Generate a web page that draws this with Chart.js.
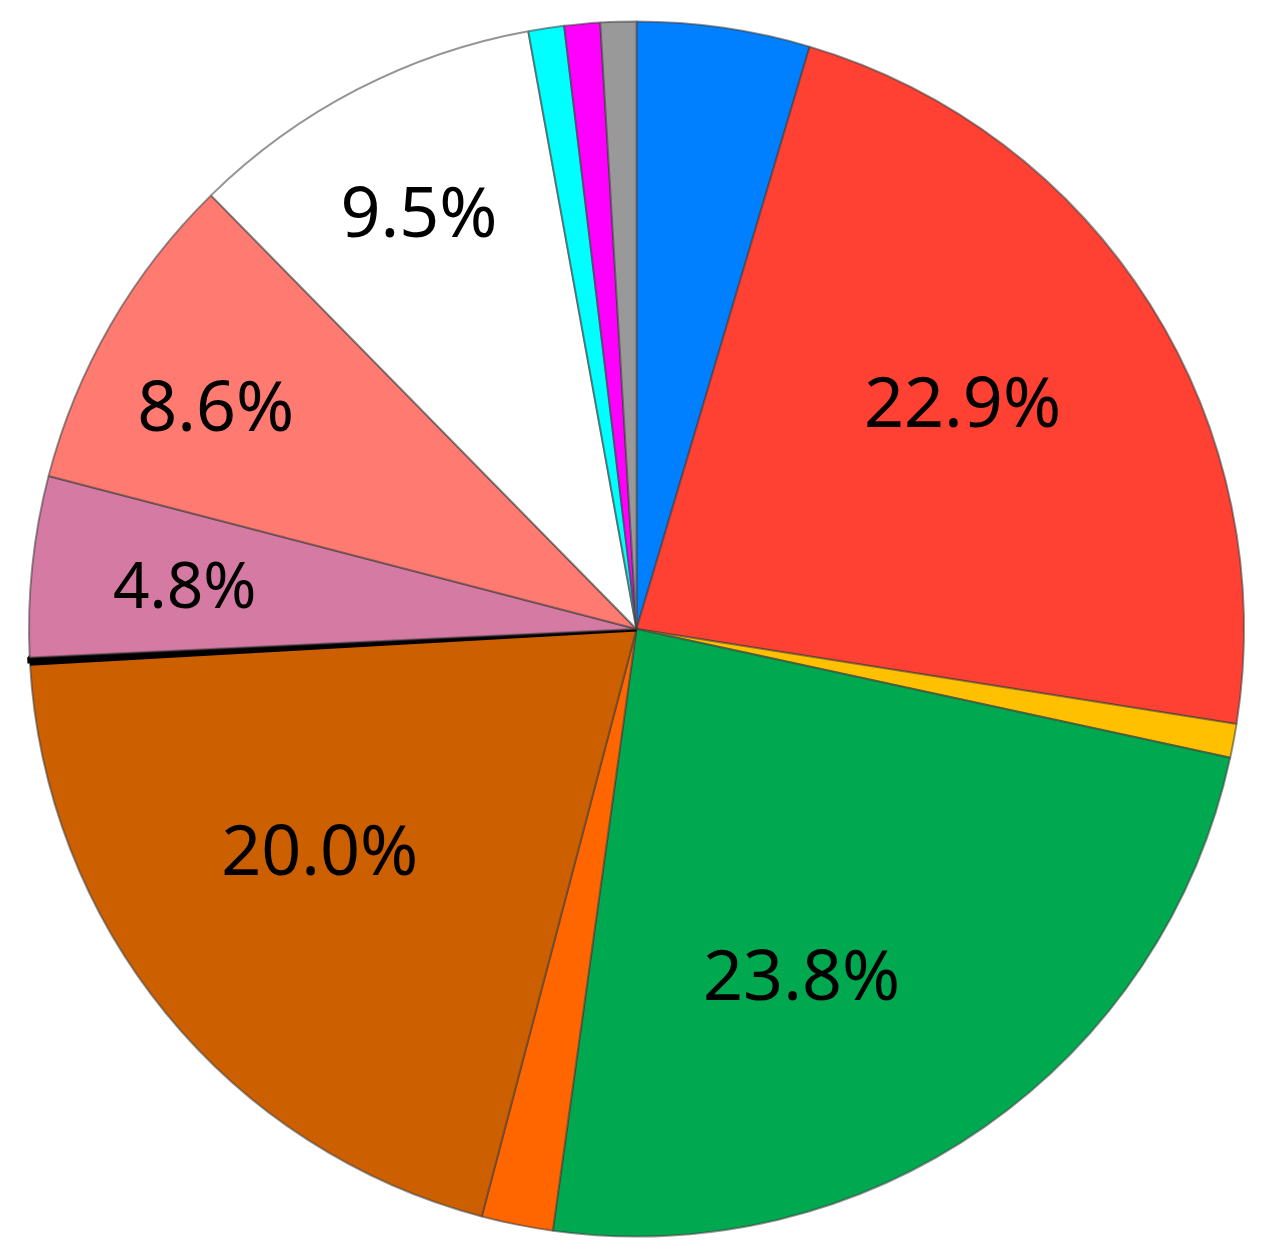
<!DOCTYPE html>
<html>
<head>
<meta charset="utf-8">
<script src="https://cdn.jsdelivr.net/npm/chart.js@4/dist/chart.umd.min.js"></script>
<style>
  body { margin: 0; background: #fff; }
  #myChart { display: block; }
</style>
</head>
<body>
<canvas id="myChart" width="1264" height="1260"></canvas>
<script>
// slices clockwise from 12 o'clock
const categories = ['Blue', 'Red', 'Yellow', 'Green', 'Orange', 'Brown', 'Black', 'Mauve', 'Salmon', 'White', 'Cyan', 'Magenta', 'Gray']
const values = [4.6, 22.9, 0.9, 23.8, 1.9, 20.0, 0.15, 4.8, 8.6, 9.5, 0.95, 0.95, 0.95]
const colors = ['#0080ff', '#ff4133', '#ffc000', '#00a84f', '#ff6600', '#cc5f00', '#000000', '#d57ba3', '#ff7b72', '#ffffff', '#00ffff', '#ff00ff', '#999999']
// which slices get a percent label
const labelText = ['', '22.9%', '', '23.8%', '', '20.0%', '', '4.8%', '8.6%', '9.5%', '', '', '']
const labelRadius = [0, 0.646, 0, 0.645, 0, 0.645, 0, 0.746, 0.777, 0.761, 0, 0, 0]
const labelShift = [0, -1.6, 0, 10, 0, 3.2, 0, -1.5, -3.1, -0.7, 0, 0, 0]  // degrees off the slice middle
const labelSize = [0, 70, 0, 70, 0, 70, 0, 64, 70, 70, 0, 0, 0]

const pctLabels = {
    id: 'pctLabels',
    afterDatasetsDraw(chart) {
        const ctx = chart.ctx
        const meta = chart.getDatasetMeta(0)
        ctx.save()
        ctx.fillStyle = '#000'
        ctx.textAlign = 'center'
        ctx.textBaseline = 'middle'
        meta.data.forEach((arc, i) => {
            if (!labelText[i]) return
            const p = arc.getProps(['x', 'y', 'startAngle', 'endAngle', 'outerRadius'], true)
            const mid = (p.startAngle + p.endAngle) / 2 + labelShift[i] * Math.PI / 180
            const r = p.outerRadius * labelRadius[i]
            ctx.font = labelSize[i] + 'px "Noto Sans"'
            ctx.fillText(labelText[i], p.x + Math.cos(mid) * r, p.y + Math.sin(mid) * r - 4)
        })
        ctx.restore()
    }
}

new Chart(document.getElementById('myChart').getContext('2d'), {
    type: 'pie',
    data: {
        labels: categories,
        datasets: [{
            data: values,
            backgroundColor: colors,
            borderColor: colors.map(c => c === '#000000' ? '#000000' : 'rgba(60,60,60,0.55)'),
            borderWidth: values.map((v, i) => colors[i] === '#000000' ? 5 : 2)
        }]
    },
    options: {
        responsive: false,
        animation: false,
        layout: { padding: { left: 26, right: 17, top: 19, bottom: 21 } },
        plugins: {
            legend: { display: false },
            tooltip: { enabled: false }
        }
    },
    plugins: [pctLabels]
})
</script>
</body>
</html>
